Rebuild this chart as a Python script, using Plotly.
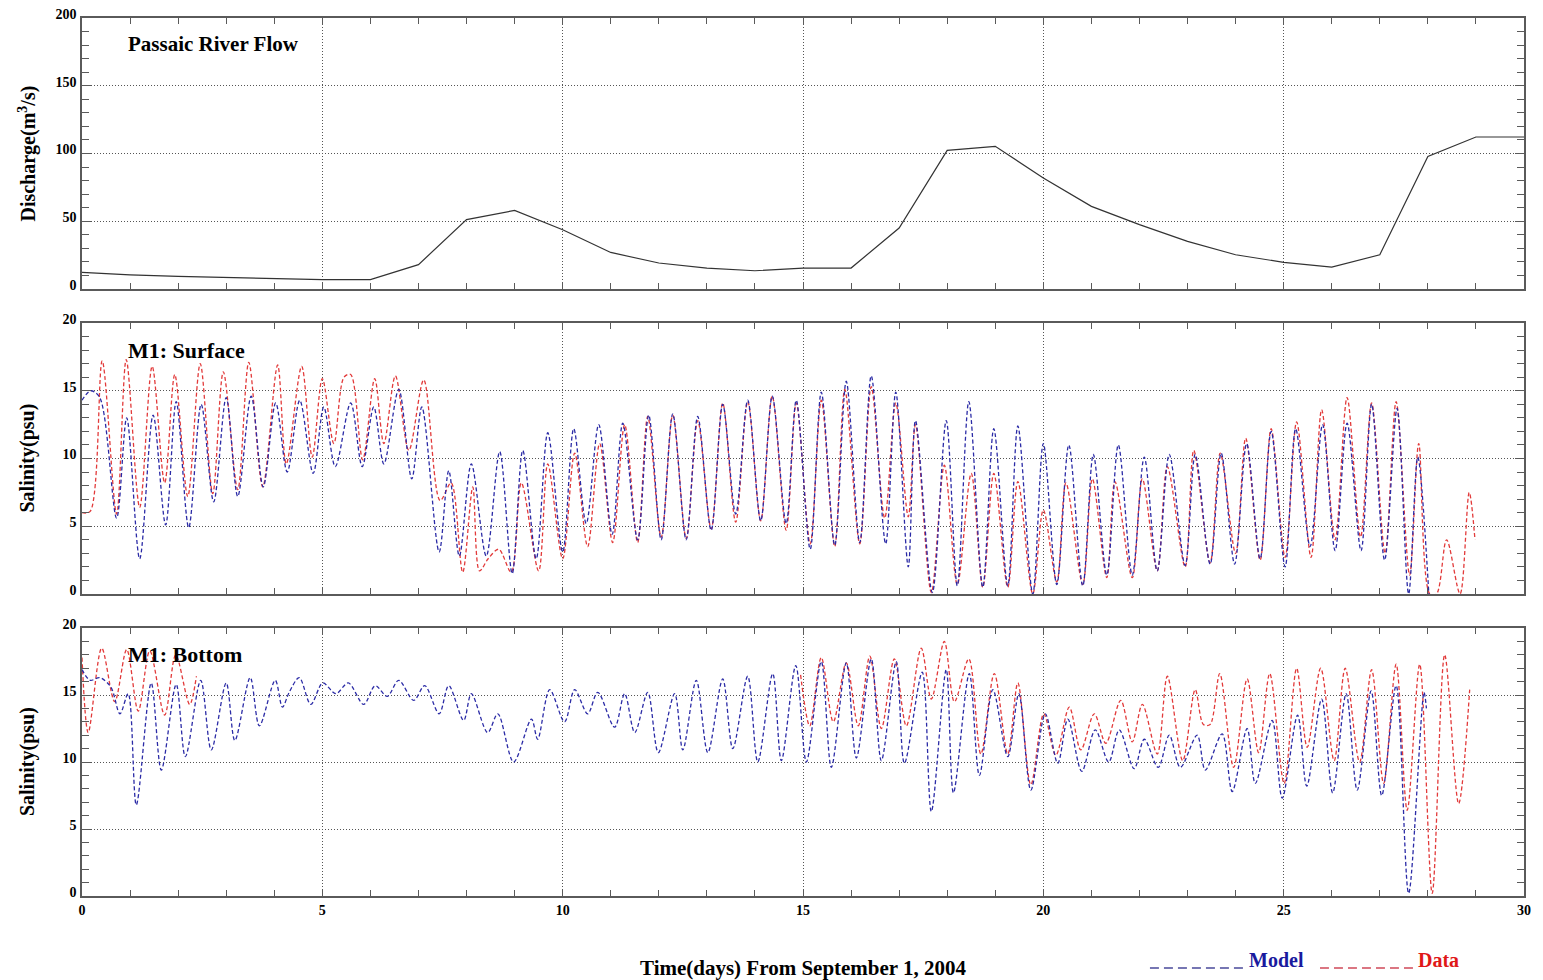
import plotly.graph_objects as go

# ---------------- data ----------------
DISCH_T = [0, 1, 2, 3, 4, 5, 6, 7, 8, 9, 10, 11, 12, 13, 14, 15, 16, 17, 18, 19,
           20, 21, 22, 23, 24, 25, 26, 27, 28, 29, 30]
DISCH_V = [12.3, 10.5, 9.3, 8.5, 7.9, 7.0, 7.0, 18.0, 51.2, 58.0, 43.8, 27.0, 19.2,
           15.5, 13.5, 15.5, 15.5, 45.0, 102.3, 105.3, 81.9, 61.0, 47.5, 35.2, 25.3,
           19.7, 16.2, 25.3, 97.9, 112.2, 112.2]

SURF_MODEL_T = [0.00, 0.18, 0.37, 0.72, 0.93, 1.20, 1.48, 1.74, 1.96, 2.22, 2.48, 2.74,
                3.00, 3.24, 3.52, 3.77, 4.03, 4.27, 4.53, 4.81, 5.03, 5.27, 5.59, 5.83,
                6.07, 6.28, 6.59, 6.86, 7.07, 7.43, 7.63, 7.85, 8.10, 8.41, 8.69, 8.95,
                9.17, 9.45, 9.69, 10.00, 10.23, 10.49, 10.75, 11.03, 11.25, 11.56, 11.79,
                12.05, 12.29, 12.57, 12.81, 13.09, 13.33, 13.60, 13.85, 14.12, 14.36,
                14.65, 14.86, 15.15, 15.38, 15.66, 15.90, 16.18, 16.42, 16.72, 16.93,
                17.19, 17.34, 17.69, 17.98, 18.21, 18.45, 18.74, 18.97, 19.26, 19.47,
                19.78, 20.00, 20.28, 20.53, 20.82, 21.04, 21.32, 21.56, 21.85, 22.10,
                22.37, 22.62, 22.95, 23.16, 23.47, 23.70, 23.98, 24.23, 24.51, 24.74,
                25.03, 25.25, 25.55, 25.81, 26.07, 26.32, 26.61, 26.83, 27.10, 27.36,
                27.60, 27.79, 28.02]
SURF_MODEL_V = [14.3, 15.0, 14.5, 5.6, 13.0, 2.6, 13.2, 5.1, 14.2, 4.9, 14.0, 6.8,
                14.5, 7.2, 14.6, 7.9, 14.1, 9.0, 14.3, 8.9, 13.8, 9.4, 14.1, 9.4,
                13.8, 9.6, 15.1, 8.5, 13.8, 3.1, 9.1, 2.8, 9.6, 2.8, 10.5, 1.5,
                10.6, 2.6, 11.9, 3.1, 12.2, 5.2, 12.5, 4.4, 12.6, 4.0, 13.2,
                4.0, 13.3, 4.0, 13.1, 4.7, 14.0, 5.9, 14.3, 5.4, 14.6,
                5.2, 14.3, 3.3, 14.9, 3.6, 15.7, 3.8, 16.1, 3.7, 14.9,
                2.0, 12.8, 0.1, 12.8, 0.6, 14.2, 0.5, 12.2, 0.6, 12.4,
                0.0, 11.1, 0.7, 11.0, 0.6, 10.3, 1.4, 11.0, 1.4, 10.1,
                1.7, 10.3, 2.1, 10.3, 2.2, 10.4, 2.2, 11.1, 2.6, 12.0,
                2.0, 12.2, 3.5, 12.5, 3.2, 12.6, 3.2, 14.0, 2.5, 13.7,
                0.0, 10.1, 0.0]

SURF_DATA_T = [0.00, 0.17, 0.42, 0.72, 0.92, 1.20, 1.46, 1.72, 1.93, 2.20, 2.46, 2.72,
               2.94, 3.24, 3.47, 3.76, 4.07, 4.25, 4.57, 4.79, 5.00, 5.24, 5.45, 5.59,
               5.84, 6.09, 6.28, 6.52, 6.80, 7.11, 7.45, 7.68, 7.92, 8.13, 8.27, 8.45,
               8.67, 8.93, 9.14, 9.50, 9.69, 10.00, 10.25, 10.52, 10.77, 11.04, 11.29,
               11.56, 11.77, 12.05, 12.29, 12.57, 12.81, 13.09, 13.33, 13.60, 13.85,
               14.12, 14.36, 14.65, 14.86, 15.15, 15.38, 15.66, 15.87, 16.18, 16.42,
               16.70, 16.93, 17.19, 17.34, 17.67, 17.94, 18.21, 18.50, 18.74, 18.97,
               19.26, 19.47, 19.78, 20.00, 20.28, 20.47, 20.82, 21.02, 21.32, 21.49,
               21.85, 22.06, 22.37, 22.58, 22.95, 23.13, 23.47, 23.68, 24.00, 24.21,
               24.51, 24.74, 25.03, 25.27, 25.57, 25.79, 26.07, 26.32, 26.60, 26.83,
               27.11, 27.34, 27.62, 27.81, 28.04, 28.18, 28.39, 28.67, 28.86, 28.98]
SURF_DATA_V = [6.0, 6.1, 17.2, 5.9, 17.3, 6.4, 16.8, 8.2, 16.2, 7.2, 17.0, 7.4,
               16.4, 7.7, 17.1, 7.9, 16.9, 9.6, 16.8, 10.1, 15.9, 11.1, 16.0, 16.2,
               9.9, 15.9, 11.1, 16.1, 10.6, 15.8, 6.9, 8.2, 1.6, 7.9, 1.7, 2.6,
               3.3, 1.6, 8.2, 1.7, 9.6, 2.6, 10.4, 3.5, 11.1, 3.8, 12.5,
               3.8, 13.1, 4.2, 13.2, 4.1, 12.8, 4.8, 14.1, 5.3, 14.2,
               5.4, 14.6, 4.7, 14.1, 3.7, 14.3, 3.5, 15.1, 3.7, 15.3,
               5.6, 14.1, 5.7, 12.5, 0.1, 9.5, 0.7, 8.9, 0.5, 8.9,
               0.5, 8.3, 0.0, 6.2, 0.9, 8.2, 0.7, 8.5, 1.2, 8.3,
               1.2, 8.5, 1.7, 9.4, 2.0, 10.6, 2.3, 10.4, 3.0, 11.5,
               2.5, 12.2, 2.7, 12.7, 2.7, 13.6, 4.0, 14.5, 4.2, 14.1,
               3.0, 14.2, 1.4, 11.1, 0.0, 0.0, 4.0, 0.0, 7.5, 4.0]

BOT_MODEL_T = [0.00, 0.17, 0.37, 0.60, 0.79, 0.96, 1.13, 1.44, 1.65, 1.96, 2.15, 2.47,
               2.69, 3.00, 3.18, 3.50, 3.69, 4.02, 4.17, 4.31, 4.52, 4.76, 5.01, 5.28,
               5.54, 5.86, 6.10, 6.35, 6.59, 6.90, 7.13, 7.43, 7.63, 7.94, 8.10, 8.44,
               8.65, 8.98, 9.35, 9.48, 9.73, 10.04, 10.25, 10.52, 10.73, 11.08, 11.29,
               11.50, 11.77, 11.99, 12.33, 12.50, 12.78, 13.02, 13.33, 13.54, 13.85,
               14.06, 14.37, 14.55, 14.85, 15.07, 15.38, 15.59, 15.90, 16.11, 16.42,
               16.63, 16.94, 17.11, 17.48, 17.67, 17.98, 18.13, 18.46, 18.67, 18.95,
               19.26, 19.49, 19.74, 20.04, 20.30, 20.51, 20.80, 21.08, 21.36, 21.58,
               21.89, 22.10, 22.39, 22.62, 22.85, 23.20, 23.37, 23.72, 23.93, 24.24,
               24.41, 24.76, 24.97, 25.29, 25.48, 25.79, 26.02, 26.30, 26.53, 26.82,
               27.04, 27.34, 27.60, 27.92, 27.97]
BOT_MODEL_V = [16.9, 16.1, 16.3, 15.6, 13.6, 15.1, 6.8, 15.9, 9.4, 15.8, 10.4, 16.1,
               10.9, 15.9, 11.6, 16.3, 12.7, 16.1, 14.1, 15.2, 16.3, 14.3, 15.9, 15.1,
               15.9, 14.3, 15.7, 14.9, 16.1, 14.6, 15.7, 13.6, 15.7, 13.1, 15.1, 12.2,
               13.6, 10.0, 13.2, 11.7, 15.4, 13.0, 15.4, 13.6, 15.2, 12.6, 15.1,
               12.2, 15.2, 10.7, 15.1, 10.9, 16.1, 10.7, 16.2, 11.0, 16.4,
               10.0, 16.6, 10.1, 17.2, 10.0, 17.5, 9.6, 17.4, 10.3, 17.7,
               10.1, 17.5, 9.9, 16.7, 6.3, 16.9, 7.7, 16.6, 9.0, 15.4,
               10.4, 15.1, 7.9, 13.6, 9.9, 13.2, 9.3, 12.4, 10.0, 12.4,
               9.5, 11.7, 9.6, 12.0, 9.6, 12.0, 9.4, 12.1, 7.8, 12.5,
               8.4, 13.1, 7.3, 13.5, 8.2, 14.7, 7.7, 15.1, 7.9, 15.3,
               7.5, 15.7, 0.2, 15.2, 14.0]

# bottom data comes in two pieces (gap between them)
BOT_DATA1_T = [0.00, 0.13, 0.41, 0.68, 0.93, 1.17, 1.41, 1.72, 1.95, 2.24, 2.38]
BOT_DATA1_V = [17.8, 12.2, 18.5, 14.5, 18.4, 13.8, 18.3, 13.5, 18.0, 14.3, 16.4]
BOT_DATA2_T = [14.95, 15.14, 15.38, 15.63, 15.90, 16.15, 16.39, 16.63, 16.90, 17.15,
               17.46, 17.67, 17.94, 18.15, 18.45, 18.70, 18.98, 19.26, 19.47, 19.74,
               20.01, 20.26, 20.54, 20.78, 21.06, 21.30, 21.61, 21.85, 22.06, 22.37,
               22.58, 22.90, 23.16, 23.33, 23.47, 23.67, 23.96, 24.24, 24.48, 24.71,
               25.01, 25.27, 25.49, 25.77, 26.05, 26.28, 26.58, 26.83, 27.08, 27.34,
               27.57, 27.83, 28.09, 28.35, 28.64, 28.87]
BOT_DATA2_V = [16.5, 12.7, 17.8, 13.0, 17.4, 12.7, 17.9, 12.5, 17.7, 12.7,
               18.5, 14.7, 19.0, 14.5, 17.7, 10.6, 16.6, 10.6, 15.9, 8.3,
               13.6, 10.5, 14.1, 10.9, 13.6, 11.4, 14.6, 11.5, 14.3, 10.6,
               16.4, 10.1, 15.4, 12.8, 12.8, 16.6, 9.6, 16.2, 10.7, 16.6,
               8.4, 17.0, 11.1, 17.0, 10.1, 17.0, 10.0, 16.9, 8.4, 17.3,
               6.4, 17.3, 0.2, 18.0, 6.9, 15.4]

X_TICKS = [0, 5, 10, 15, 20, 25, 30]

# ---------------- styling ----------------
BLUE = "#2b2ba6"
RED = "#e23a3a"
FRAME = "#5a5a5a"
GRID = "#555555"
SERIF = "Liberation Serif"
TICKFONT = dict(family=SERIF, size=14, color="black", weight="bold")

fig = go.Figure()


def salinity(x, y, color, xa, ya):
    fig.add_trace(go.Scatter(
        x=x, y=y, mode="lines", xaxis=xa, yaxis=ya, showlegend=False,
        line=dict(color=color, width=1.3, dash="4px,2.5px", shape="spline", smoothing=0.9),
        hoverinfo="skip"))


fig.add_trace(go.Scatter(x=DISCH_T, y=DISCH_V, mode="lines", xaxis="x", yaxis="y",
                         showlegend=False, line=dict(color="#333333", width=1.2)))

salinity(SURF_DATA_T, SURF_DATA_V, RED, "x2", "y2")
salinity(SURF_MODEL_T, SURF_MODEL_V, BLUE, "x2", "y2")
salinity(BOT_DATA1_T, BOT_DATA1_V, RED, "x3", "y3")
salinity(BOT_DATA2_T, BOT_DATA2_V, RED, "x3", "y3")
salinity(BOT_MODEL_T, BOT_MODEL_V, BLUE, "x3", "y3")


def xaxis_cfg(anchor, labels):
    return dict(
        anchor=anchor, domain=[0, 1], range=[0, 30], tickvals=X_TICKS,
        showticklabels=labels, tickfont=TICKFONT, automargin=False,
        showline=True, linecolor=FRAME, linewidth=1.6, mirror="ticks",
        ticks="inside", ticklen=7, tickwidth=1, tickcolor=FRAME,
        showgrid=True, gridcolor=GRID, griddash="1px,2px", gridwidth=1,
        minor=dict(dtick=1, tick0=0, ticks="inside", ticklen=6, tickwidth=1,
                   tickcolor=FRAME, showgrid=False),
        zeroline=False, fixedrange=True)


def yaxis_cfg(anchor, dom, top, major, minor):
    return dict(
        anchor=anchor, domain=dom, range=[0, top], dtick=major, tick0=0,
        tickfont=TICKFONT, automargin=False,
        showline=True, linecolor=FRAME, linewidth=1.6,
        mirror="ticks", ticks="inside", ticklen=9, tickwidth=1, tickcolor=FRAME,
        showgrid=True, gridcolor=GRID, griddash="1px,2px", gridwidth=1,
        minor=dict(dtick=minor, tick0=0, ticks="inside", ticklen=7, tickwidth=1,
                   tickcolor=FRAME, showgrid=False),
        zeroline=False, fixedrange=True, ticklabelstandoff=1, ticklabelshift=-4)


fig.update_layout(
    width=1543, height=980,
    margin=dict(l=82, r=19, t=18, b=84, autoexpand=False),
    paper_bgcolor="white", plot_bgcolor="white",
    font=dict(family=SERIF, color="black"),
    xaxis=xaxis_cfg("y", False),
    xaxis2=xaxis_cfg("y2", False),
    xaxis3=xaxis_cfg("y3", True),
    yaxis=yaxis_cfg("x", [0.6913, 1.0], 200, 50, 10),
    yaxis2=yaxis_cfg("x2", [0.3440, 0.6526], 20, 5, 1),
    yaxis3=yaxis_cfg("x3", [0.0, 0.3052], 20, 5, 1),
)

ann = [
    dict(text="Passaic River Flow", x=0.92, y=181, xref="x", yref="y",
         xanchor="left", yanchor="middle", showarrow=False,
         font=dict(family=SERIF, size=21, color="black", weight="bold")),
    dict(text="M1: Surface", x=0.92, y=18.0, xref="x2", yref="y2",
         xanchor="left", yanchor="middle", showarrow=False,
         font=dict(family=SERIF, size=22, color="black", weight="bold")),
    dict(text="M1: Bottom", x=0.92, y=18.0, xref="x3", yref="y3",
         xanchor="left", yanchor="middle", showarrow=False,
         font=dict(family=SERIF, size=22, color="black", weight="bold")),
    dict(text="Discharge(m<sup>3</sup>/s)", x=-0.0381, y=0.8457, xref="paper", yref="paper",
         textangle=-90, showarrow=False, xanchor="center", yanchor="middle",
         font=dict(family=SERIF, size=20, color="black", weight="bold")),
    dict(text="Salinity(psu)", x=-0.0381, y=0.4983, xref="paper", yref="paper",
         textangle=-90, showarrow=False, xanchor="center", yanchor="middle",
         font=dict(family=SERIF, size=20, color="black", weight="bold")),
    dict(text="Salinity(psu)", x=-0.0381, y=0.1526, xref="paper", yref="paper",
         textangle=-90, showarrow=False, xanchor="center", yanchor="middle",
         font=dict(family=SERIF, size=20, color="black", weight="bold")),
    dict(text="Time(days) From September 1, 2004", x=0.5, y=-0.082, xref="paper",
         yref="paper", showarrow=False, xanchor="center", yanchor="middle",
         font=dict(family=SERIF, size=21, color="black", weight="bold")),
    dict(text="Model", x=0.8079, y=-0.0729, xref="paper", yref="paper",
         showarrow=False, xanchor="left", yanchor="middle",
         font=dict(family=SERIF, size=20, color="#1a1a9e", weight="bold")),
    dict(text="Data", x=0.9251, y=-0.0729, xref="paper", yref="paper",
         showarrow=False, xanchor="left", yanchor="middle",
         font=dict(family=SERIF, size=20, color="#e01818", weight="bold")),
]
fig.update_layout(annotations=ann)

fig.update_layout(shapes=[
    dict(type="line", xref="paper", yref="paper", x0=0.7406, x1=0.8065, y0=-0.082, y1=-0.082,
         line=dict(color="#4a4a9a", width=1.5, dash="9px,5px")),
    dict(type="line", xref="paper", yref="paper", x0=0.8585, x1=0.9230, y0=-0.082, y1=-0.082,
         line=dict(color="#d04a5a", width=1.5, dash="9px,5px")),
])

fig.write_html("out.html")
